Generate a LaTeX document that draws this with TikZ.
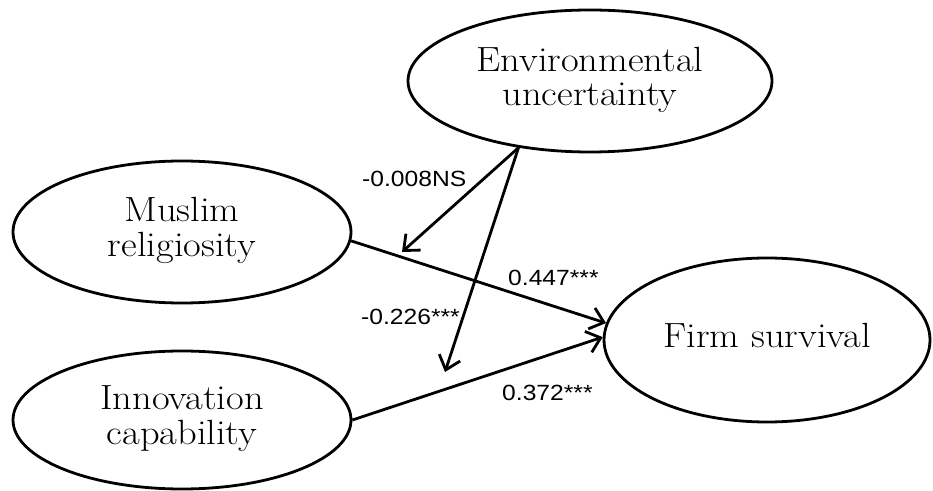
\documentclass[tikz,border=0pt]{standalone}
\usepackage{fontspec}
\usepackage{graphicx}
\newfontfamily\labfont{Liberation Sans}[FakeStretch=1.12]
\usetikzlibrary{shapes.geometric,arrows.meta}
\newcommand{\wtxt}[1]{\scalebox{1.1}[1]{\begin{tabular}{@{}c@{}}#1\end{tabular}}}
\begin{document}
\begin{tikzpicture}[x=1pt,y=1pt,
  latent/.style={ellipse,draw,line width=2.8pt,inner sep=0pt,font=\fontsize{35}{34}\selectfont},
  path/.style={line width=2.8pt,-{Straight Barb[length=13pt,width=22pt,line width=2.8pt]}},
  coef/.style={font=\labfont\fontsize{22}{24}\selectfont,inner sep=0pt}]
\useasboundingbox (0,0) rectangle (933,490);
\node[latent,minimum width=364pt,minimum height=142pt] (env) at (590,409) {\wtxt{Environmental\\uncertainty}};
\node[latent,minimum width=338pt,minimum height=142pt] (mus) at (182,258) {\wtxt{Muslim\\religiosity}};
\node[latent,minimum width=338pt,minimum height=138pt] (inn) at (182,70) {\wtxt{Innovation\\capability}};
\node[latent,minimum width=326pt,minimum height=164pt] (firm) at (767,150) {\wtxt{Firm survival}};
\coordinate (m1) at (402,238);
\coordinate (m2) at (445,118);
\draw[path] (mus.-3) -- (firm.174);
\draw[path] (inn.0) -- (firm.179);
\draw[path] (env.223) -- (m1);
\draw[path] (env.223) -- (m2);
\node[coef,anchor=base west] (l1) at (362,303) {-0.008NS};
\node[coef,anchor=base west] (l2) at (508,204) {0.447***};
\node[coef,anchor=base east] (l3) at (460,165) {-0.226***};
\node[coef,anchor=base west] (l4) at (502,90) {0.372***};
\end{tikzpicture}
\end{document}
